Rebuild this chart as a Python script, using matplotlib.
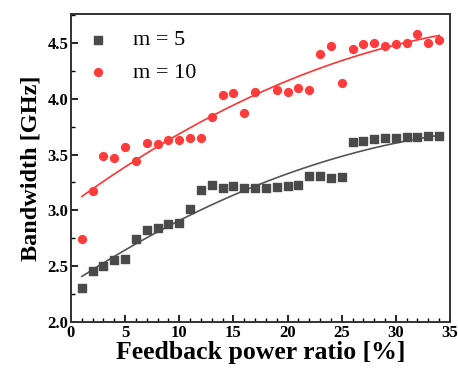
import matplotlib
matplotlib.use('Agg')
import matplotlib.pyplot as plt
import numpy as np

# feedback power ratio [%]
x_m5 = [1, 2, 3, 4, 5, 6, 7, 8, 9, 10, 11, 12, 13, 14, 15, 16, 17,
        18, 19, 20, 21, 22, 23, 24, 25, 26, 27, 28, 29, 30, 31, 32, 33, 34]
bw_m5 = [2.30, 2.46, 2.50, 2.55, 2.56, 2.74, 2.82, 2.84, 2.88, 2.89, 3.01,
         3.18, 3.23, 3.20, 3.22, 3.20, 3.20, 3.20, 3.21, 3.22, 3.23, 3.31,
         3.31, 3.29, 3.30, 3.61, 3.62, 3.64, 3.65, 3.65, 3.655, 3.66, 3.67, 3.67]

x_m10 = [1, 2, 3, 4, 5, 6, 7, 8, 9, 10, 11, 12, 13, 14, 15, 16, 17,
         19, 20, 21, 22, 23, 24, 25, 26, 27, 28, 29, 30, 31, 32, 33, 34]
bw_m10 = [2.74, 3.17, 3.49, 3.47, 3.57, 3.44, 3.60, 3.59, 3.63, 3.63, 3.65,
          3.65, 3.84, 4.03, 4.05, 3.87, 4.06, 4.08, 4.06, 4.10, 4.08, 4.40,
          4.47, 4.14, 4.45, 4.49, 4.50, 4.47, 4.49, 4.50, 4.58, 4.50, 4.53]

plt.rcParams['font.family'] = 'Liberation Serif'

fig = plt.figure(figsize=(4.58, 3.76), dpi=100)
ax = fig.add_axes([0.155, 0.144, 0.8275, 0.818])

c5 = '#4a4a4a'
c10 = '#ff3b3b'

ax.scatter(x_m5, bw_m5, marker='s', s=30, color=c5, label='m = 5', zorder=3)
ax.scatter(x_m10, bw_m10, marker='o', s=32, color=c10, label='m = 10', zorder=3)

# quadratic fits
xf = np.linspace(1, 34, 200)
p5 = np.polyfit(x_m5, bw_m5, 2)
p10 = np.polyfit(x_m10, bw_m10, 2)
ax.plot(xf, np.polyval(p5, xf), color='#555555', lw=1.2)
ax.plot(xf, np.polyval(p10, xf), color='#ff3333', lw=1.2)

ax.set_xlim(0, 35)
ax.set_ylim(2.0, 4.757)
ax.set_xticks(np.arange(0, 36, 5))
ax.set_xticks(np.arange(0, 36, 1), minor=True)
ax.set_yticks(np.arange(2.0, 4.51, 0.5))
ax.set_yticks(np.arange(2.0, 4.76, 0.25), minor=True)
ax.set_yticklabels(['%.1f' % v for v in np.arange(2.0, 4.51, 0.5)])

ax.tick_params(which='both', direction='in', top=False, right=False)
ax.tick_params(which='major', length=5, width=1.2, labelsize=12, pad=2)
ax.tick_params(which='minor', length=3, width=1.0)
for lab in ax.get_xticklabels() + ax.get_yticklabels():
    lab.set_fontweight('bold')
for sp in ax.spines.values():
    sp.set_linewidth(1.4)
    sp.set_color('#333333')

ax.set_xlabel('Feedback power ratio [%]', fontsize=18.5, fontweight='bold', labelpad=0)
ax.set_ylabel('Bandwidth [GHz]', fontsize=17.5, fontweight='bold', labelpad=4)

ax.legend(loc='upper left', frameon=False, fontsize=16, handlelength=1.0,
          handletextpad=1.1, borderaxespad=0.3, labelspacing=0.55)

plt.savefig('out.png', dpi=100)
